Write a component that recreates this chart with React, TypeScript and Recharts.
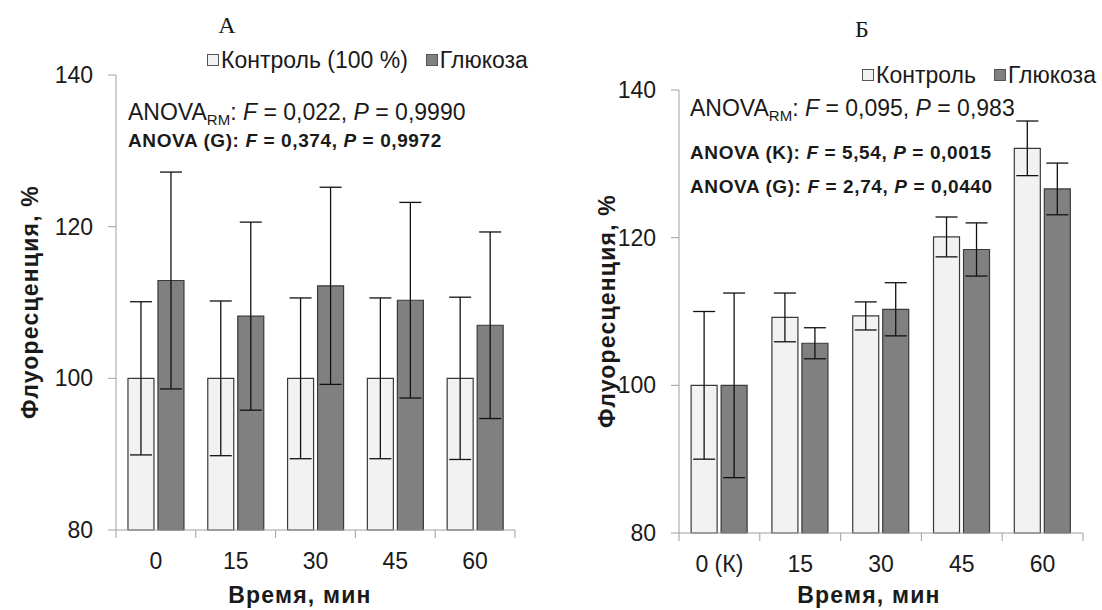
import React from 'react'
import { ComposedChart, Bar, XAxis, YAxis, ErrorBar, Legend } from 'recharts'

// panel А
const timesA = ['0', '15', '30', '45', '60']
const controlA = [100, 100, 100, 100, 100]
const controlErrA = [10.1, 10.2, 10.6, 10.6, 10.7]
const glucoseA = [112.9, 108.2, 112.2, 110.3, 107.0]
const glucoseErrA = [14.3, 12.4, 13.0, 12.9, 12.3]

// panel Б
const timesB = ['0 (К)', '15', '30', '45', '60']
const controlB = [100, 109.2, 109.4, 120.1, 132.1]
const controlErrB = [10.0, 3.3, 1.9, 2.7, 3.7]
const glucoseB = [100, 105.7, 110.3, 118.4, 126.6]
const glucoseErrB = [12.5, 2.1, 3.6, 3.6, 3.5]

const yTicks = [80, 100, 120, 140]

const SANS = '"Liberation Sans", Arial, sans-serif'
const SERIF = '"Liberation Serif", "Times New Roman", serif'
const TEXT = '#1a1a1a'
const AXIS = '#a0a0a0'
const Y_AXIS_W = 60
const TICK_GAP = 23

type PanelProps = {
  categories: string[]
  control: number[]
  controlErr: number[]
  glucose: number[]
  glucoseErr: number[]
  controlName: string
  left: number
  width: number
  margin: { top: number; right: number; bottom: number; left: number }
  legendPos: { top: number; left: number }
}

const legendOrder = ['control', 'glucose']

const renderLegend = (props: any) => {
  const items = [...(props.payload || [])].sort(
    (a: any, b: any) => legendOrder.indexOf(a.dataKey) - legendOrder.indexOf(b.dataKey)
  )
  return (
    <div style={{ display: 'flex', fontFamily: SANS, fontSize: 23, color: TEXT, whiteSpace: 'nowrap', lineHeight: '24px' }}>
      {items.map((e: any, i: number) => (
        <span key={i} style={{ display: 'flex', alignItems: 'center', marginLeft: i ? 18 : 0 }}>
          <span
            style={{
              display: 'inline-block',
              width: 10,
              height: 10,
              background: e.color,
              border: '1px solid #555',
              marginRight: 2,
            }}
          />
          {e.value}
        </span>
      ))}
    </div>
  )
}

// category labels in the middle, tick marks on the category borders
const makeTick = (band: number, count: number) => (props: any) => {
  const { x, y, payload, index } = props
  const axisY = y - TICK_GAP
  return (
    <g>
      <line x1={x - band / 2} x2={x - band / 2} y1={axisY} y2={axisY + 8} stroke={AXIS} />
      {index === count - 1 && <line x1={x + band / 2} x2={x + band / 2} y1={axisY} y2={axisY + 8} stroke={AXIS} />}
      <text x={x} y={y} dy="0.71em" textAnchor="middle" fontFamily={SANS} fontSize={23} fill={TEXT}>
        {payload.value}
      </text>
    </g>
  )
}

function Panel({ categories, control, controlErr, glucose, glucoseErr, controlName, left, width, margin, legendPos }: PanelProps) {
  const data = categories.map((t, i) => ({
    time: t,
    control: control[i],
    controlErr: controlErr[i],
    glucose: glucose[i],
    glucoseErr: glucoseErr[i],
  }))
  const band = (width - margin.left - margin.right - Y_AXIS_W) / categories.length

  return (
    <div style={{ position: 'absolute', left, top: 0 }}>
      <ComposedChart width={width} height={610} data={data} margin={margin} barCategoryGap="15%" barGap={4}>
        <XAxis
          dataKey="time"
          height={50}
          axisLine={{ stroke: AXIS }}
          tickLine={false}
          tickSize={0}
          tickMargin={TICK_GAP}
          tick={makeTick(band, categories.length)}
          interval={0}
        />
        <YAxis
          width={Y_AXIS_W}
          domain={[80, 140]}
          ticks={yTicks}
          tickSize={8}
          tickMargin={15}
          axisLine={{ stroke: AXIS }}
          tickLine={{ stroke: AXIS }}
          tick={{ fontSize: 23, fill: TEXT, fontFamily: SANS }}
        />
        <Legend
          layout="horizontal"
          verticalAlign="middle"
          align="center"
          content={renderLegend}
          wrapperStyle={{ top: legendPos.top, left: legendPos.left, width: 'auto' }}
        />
        <Bar dataKey="control" name={controlName} fill="#f2f2f2" stroke="#3a3a3a" strokeWidth={1.2} isAnimationActive={false}>
          <ErrorBar dataKey="controlErr" width={11} stroke="#111" strokeWidth={1.3} direction="y" isAnimationActive={false} />
        </Bar>
        <Bar dataKey="glucose" name="Глюкоза" fill="#808080" stroke="#3a3a3a" strokeWidth={1.2} isAnimationActive={false}>
          <ErrorBar dataKey="glucoseErr" width={11} stroke="#111" strokeWidth={1.3} direction="y" isAnimationActive={false} />
        </Bar>
      </ComposedChart>
    </div>
  )
}

function RmLine({ x, y, f, p }: { x: number; y: number; f: string; p: string }) {
  return (
    <text x={x} y={y} fontFamily={SANS} fontSize={23} fill={TEXT}>
      ANOVA
      <tspan fontSize={15} dy={5}>RM</tspan>
      <tspan dy={-5}>: </tspan>
      <tspan fontStyle="italic">F</tspan>
      <tspan>{` = ${f}, `}</tspan>
      <tspan fontStyle="italic">P</tspan>
      <tspan>{` = ${p}`}</tspan>
    </text>
  )
}

function BoldLine({ x, y, g, f, p }: { x: number; y: number; g: string; f: string; p: string }) {
  return (
    <text x={x} y={y} fontFamily={SANS} fontSize={19} fontWeight="bold" letterSpacing={0.6} fill={TEXT}>
      {`ANOVA  (${g}): `}
      <tspan fontStyle="italic">F</tspan>
      <tspan>{` = ${f}, `}</tspan>
      <tspan fontStyle="italic">P</tspan>
      <tspan>{` = ${p}`}</tspan>
    </text>
  )
}

const axisTitle = { fontFamily: SANS, fontSize: 23, fontWeight: 'bold' as const, letterSpacing: 1.2, fill: TEXT }

export default function App() {
  return (
    <div style={{ position: 'absolute', left: 0, top: 0, width: 1102, height: 610, background: '#fff' }}>
      <Panel
        categories={timesA}
        control={controlA}
        controlErr={controlErrA}
        glucose={glucoseA}
        glucoseErr={glucoseErrA}
        controlName="Контроль (100 %)"
        left={0}
        width={550}
        margin={{ top: 75, right: 35, bottom: 30, left: 56 }}
        legendPos={{ top: 48, left: 207 }}
      />
      <Panel
        categories={timesB}
        control={controlB}
        controlErr={controlErrB}
        glucose={glucoseB}
        glucoseErr={glucoseErrB}
        controlName="Контроль"
        left={551}
        width={551}
        margin={{ top: 90, right: 19, bottom: 27, left: 68 }}
        legendPos={{ top: 63, left: 311 }}
      />
      <svg width={1102} height={610} style={{ position: 'absolute', left: 0, top: 0, pointerEvents: 'none' }}>
        <text x={227} y={33} textAnchor="middle" fontFamily={SERIF} fontSize={24} fill={TEXT}>А</text>
        <text x={862} y={37} textAnchor="middle" fontFamily={SERIF} fontSize={24} fill={TEXT}>Б</text>

        <RmLine x={128} y={120} f="0,022" p="0,9990" />
        <BoldLine x={128} y={147} g="G" f="0,374" p="0,9972" />

        <RmLine x={690} y={116} f="0,095" p="0,983" />
        <BoldLine x={690} y={159} g="K" f="5,54" p="0,0015" />
        <BoldLine x={690} y={193} g="G" f="2,74" p="0,0440" />

        <text transform="translate(30 302) rotate(-90)" textAnchor="middle" dominantBaseline="central" {...axisTitle}>
          Флуоресценция, %
        </text>
        <text transform="translate(607 311) rotate(-90)" textAnchor="middle" dominantBaseline="central" {...axisTitle}>
          Флуоресценция, %
        </text>
        <text x={300} y={603} textAnchor="middle" {...axisTitle}>
          Время, мин
        </text>
        <text x={869} y={603} textAnchor="middle" {...axisTitle}>
          Время, мин
        </text>
      </svg>
    </div>
  )
}
